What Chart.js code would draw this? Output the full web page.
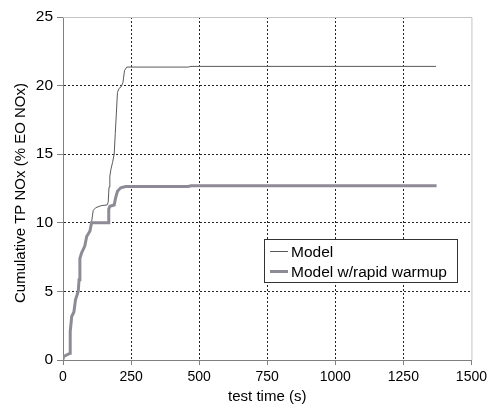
<!DOCTYPE html>
<html>
<head>
<meta charset="utf-8">
<script src="https://cdn.jsdelivr.net/npm/chart.js@4.4.1/dist/chart.umd.min.js"></script>
<style>
  html,body{margin:0;padding:0;background:#fff;}
  #c{display:block;}
</style>
</head>
<body>
<canvas id="c" width="491" height="410"></canvas>
<script>
// data
const labels = ["Model", "Model w/rapid warmup"];

const modelT = [0, 26, 26.5, 32, 40, 46, 56, 59, 62, 68, 80, 87, 99, 104, 108, 111, 120, 140, 162, 166, 169, 172, 176, 182, 188, 192, 196, 200, 206, 213, 220, 226, 234, 460, 470, 1370];
const modelV = [0.2, 0.49, 2.07, 3.17, 3.5, 4.4, 5.0, 5.85, 7.4, 7.8, 8.3, 9.0, 9.4, 9.9, 10.5, 10.9, 11.1, 11.25, 11.3, 11.5, 12.6, 13.4, 13.9, 14.4, 15.0, 16.5, 18.0, 19.5, 19.8, 19.9, 20.2, 21.1, 21.35, 21.35, 21.4, 21.4];

const rapidT = [0, 1, 26, 26.5, 32, 40, 46, 56, 59, 62, 68, 80, 87, 99, 105, 166, 168, 172, 188, 193, 200, 212, 230, 460, 470, 1372];
const rapidV = [0.15, 0.24, 0.49, 2.07, 3.17, 3.5, 4.4, 5.0, 5.85, 7.4, 7.8, 8.3, 9.0, 9.4, 10.0, 10.0, 11.0, 11.2, 11.3, 11.8, 12.3, 12.55, 12.65, 12.65, 12.7, 12.7];

const xTicks = [0, 250, 500, 750, 1000, 1250, 1500];
const yTicks = [0, 5, 10, 15, 20, 25];
const yTitle = 'Cumulative TP NOx (% EO NOx)';

const pts = (t, v) => t.map((x, i) => ({x, y: v[i]}));

const FONT = "'Liberation Sans', Arial, sans-serif";

const innerGrid = (ticks) => ctx => {
  const v = ctx.tick ? ctx.tick.value : null;
  return (v === ticks[0] || v === ticks[ticks.length-1]) ? 'rgba(0,0,0,0)' : '#222';
};

const frame = {
  id: 'frame',
  beforeDatasetsDraw(chart){
    const {ctx, chartArea:a} = chart;
    ctx.save();
    ctx.strokeStyle = '#c4c4c4';
    ctx.lineWidth = 1;
    ctx.beginPath();
    ctx.moveTo(a.left, a.top + 0.5);
    ctx.lineTo(a.right + 0.5, a.top + 0.5);
    ctx.lineTo(a.right + 0.5, a.bottom);
    ctx.stroke();
    // y axis title, a bit below the plot middle like the original
    ctx.translate(21, 193);
    ctx.rotate(-Math.PI / 2);
    ctx.font = '15px ' + FONT;
    ctx.fillStyle = '#000';
    ctx.textAlign = 'center';
    ctx.textBaseline = 'middle';
    ctx.fillText(yTitle, 0, 0);
    ctx.restore();
  }
};

const boxLegend = {
  id: 'boxLegend',
  afterDatasetsDraw(chart){
    const {ctx} = chart;
    const x0 = 264.5, y0 = 239.5, w = 193, h = 43;
    ctx.save();
    ctx.fillStyle = '#fff';
    ctx.fillRect(x0, y0, w, h);
    ctx.strokeStyle = '#333';
    ctx.lineWidth = 1;
    ctx.strokeRect(x0, y0, w, h);
    ctx.font = '15.5px ' + FONT;
    ctx.textBaseline = 'middle';
    ctx.fillStyle = '#000';
    chart.data.datasets.forEach((ds, i) => {
      const y = y0 + 12 + i * 20;
      ctx.strokeStyle = ds.borderColor;
      ctx.lineWidth = ds.borderWidth;
      ctx.beginPath();
      ctx.moveTo(270, y);
      ctx.lineTo(288, y);
      ctx.stroke();
      ctx.fillText(ds.label, 291, y + 1);
    });
    ctx.restore();
  }
};

new Chart(document.getElementById('c'), {
  type: 'line',
  data: {
    datasets: [
      {label: labels[0], data: pts(modelT, modelV), borderColor: '#5a5a5a', borderWidth: 1, pointRadius: 0, tension: 0, order: 1},
      {label: labels[1], data: pts(rapidT, rapidV), borderColor: '#8e8b96', borderWidth: 3, pointRadius: 0, tension: 0, order: 0}
    ]
  },
  options: {
    responsive: false,
    animation: false,
    layout: {padding: {left: 0, right: 18, top: 17, bottom: 0}},
    plugins: {legend: {display: false}, tooltip: {enabled: false}},
    scales: {
      x: {
        type: 'linear', min: 0, max: 1500,
        afterBuildTicks: s => { s.ticks = xTicks.map(v => ({value: v})); },
        afterFit: s => { s.height = 50; },
        grid: {color: innerGrid(xTicks), lineWidth: 1, tickLength: 5, tickColor: '#808080', tickBorderDash: []},
        border: {display: true, color: '#808080', width: 1, dash: [2, 2]},
        ticks: {color: '#000', padding: 4, maxRotation: 0, callback: v => String(v), font: {family: FONT, size: 14}},
        title: {display: true, text: 'test time (s)', color: '#000', padding: {top: 0, bottom: 4}, font: {family: FONT, size: 15}}
      },
      y: {
        type: 'linear', min: 0, max: 25,
        afterBuildTicks: s => { s.ticks = yTicks.map(v => ({value: v})); },
        afterFit: s => { s.width = 63; },
        grid: {color: innerGrid(yTicks), lineWidth: 1, tickLength: 6, tickColor: '#808080', tickBorderDash: []},
        border: {display: true, color: '#808080', width: 1, dash: [2, 2]},
        ticks: {color: '#000', padding: 4, callback: v => String(v), font: {family: FONT, size: 15.5}},
        title: {display: false}
      }
    }
  },
  plugins: [frame, boxLegend]
});
</script>
</body>
</html>
